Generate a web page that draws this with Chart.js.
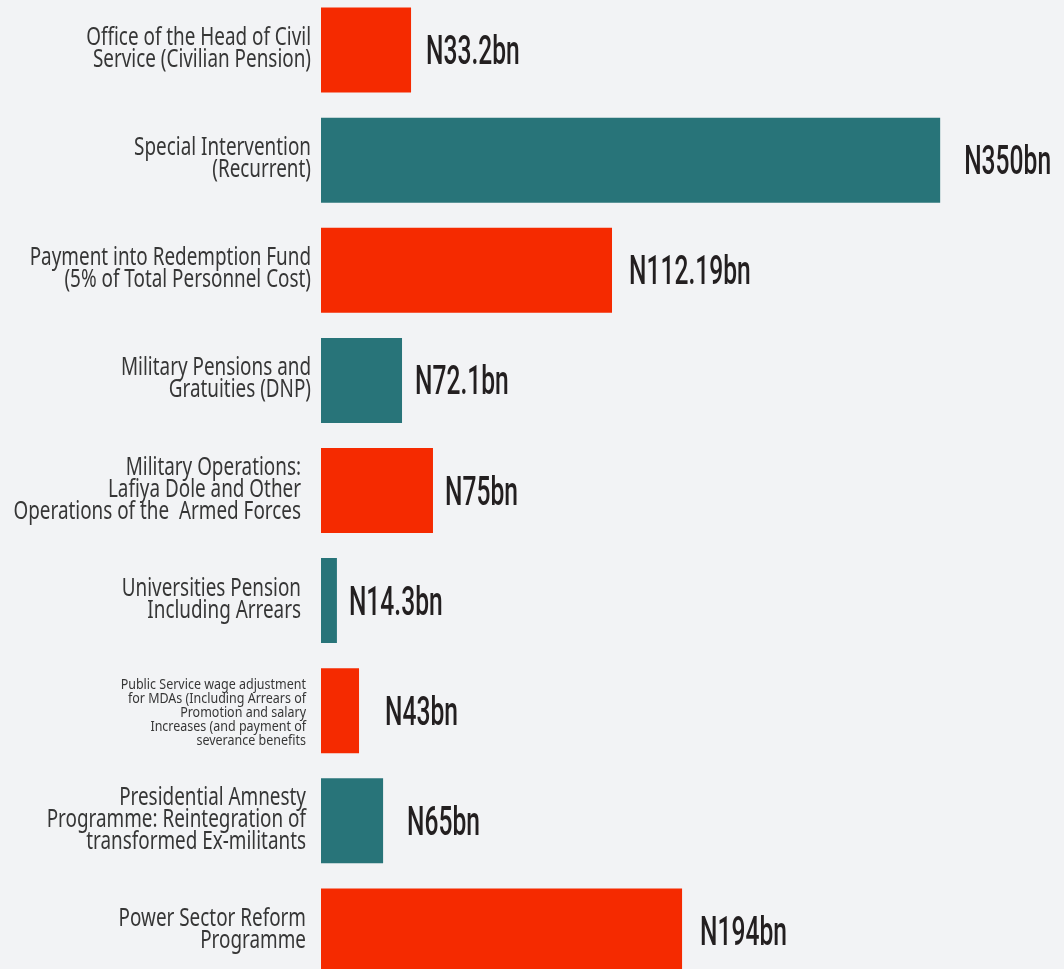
<!DOCTYPE html>
<html>
<head>
<meta charset="utf-8">
<script src="https://cdn.jsdelivr.net/npm/chart.js@4"></script>
<style>
	html, body { margin: 0; padding: 0; background: #F2F3F5; overflow: hidden; }
	#wrap { position: absolute; left: 0; top: -5px; width: 1064px; height: 991px; }
</style>
</head>
<body>
<div id="wrap"><canvas id="canvas"></canvas></div>
<script>
var categories = [
	['Office of the Head of Civil', 'Service (Civilian Pension)'],
	['Special Intervention', '(Recurrent)'],
	['Payment into Redemption Fund', '(5% of Total Personnel Cost)'],
	['Military Pensions and', 'Gratuities (DNP)'],
	['Military Operations:', 'Lafiya Dole and Other', 'Operations of the  Armed Forces'],
	['Universities Pension', 'Including Arrears'],
	['Public Service wage adjustment', 'for MDAs (Including Arrears of', 'Promotion and salary', 'Increases (and payment of', 'severance benefits'],
	['Presidential Amnesty', 'Programme: Reintegration of', 'transformed Ex-militants'],
	['Power Sector Reform', 'Programme']
];
// amounts printed next to the bars (N billion)
var amounts = [33.2, 350, 112.19, 72.1, 75, 14.3, 43, 65, 194];
// bar lengths as drawn in the graphic (same units, bars are not to scale)
var barLengths = [50.9, 350, 164.5, 45.8, 63.3, 9.0, 21.5, 35.1, 204.1];

var RED = '#F52A00';
var TEAL = '#287479';
var barColors = categories.map(function(c, i) { return i % 2 === 0 ? RED : TEAL; });

// right edge of each category label, gap between bar end and amount
var labelRight = [311, 311, 311, 311, 301, 301, 306, 306, 306];
var valueGap = [15, 24, 17, 13, 12, 12, 26, 24, 18];

var textPlugin = {
	id: 'texts',
	afterDatasetsDraw: function(chart) {
		var ctx = chart.ctx;
		var yScale = chart.scales.y;
		var meta = chart.getDatasetMeta(0);
		ctx.save();
		categories.forEach(function(lines, i) {
			var y = yScale.getPixelForValue(i);
			var small = lines.length > 3;
			var size = small ? 14.7 : 25;
			var lh = small ? 14 : 22;
			var sx = small ? 0.85 : 0.755;
			ctx.fillStyle = '#363636';
			ctx.font = '400 ' + size + 'px "Noto Sans"';
			ctx.textAlign = 'right';
			ctx.textBaseline = 'alphabetic';
			var first = y - (lines.length - 1) * lh / 2 + 6;
			lines.forEach(function(line, k) {
				ctx.save();
				ctx.translate(labelRight[i], first + k * lh);
				ctx.scale(sx, 1);
				ctx.fillText(line, 0, 0);
				ctx.restore();
			});

			// amount label
			var bar = meta.data[i];
			ctx.save();
			ctx.fillStyle = '#231F20';
			ctx.font = '500 41px Roboto';
			ctx.textAlign = 'left';
			ctx.translate(bar.x + valueGap[i], y + 14);
			ctx.scale(0.6, 1);
			ctx.fillText('N' + amounts[i] + 'bn', 0, 0);
			ctx.restore();
		});
		ctx.restore();
	}
};

window.onload = function() {
	var ctx = document.getElementById('canvas').getContext('2d');
	window.myBar = new Chart(ctx, {
		type: 'bar',
		data: {
			labels: categories,
			datasets: [{
				label: 'Amount',
				data: barLengths,
				backgroundColor: barColors,
				borderWidth: 0,
				barPercentage: 0.772,
				categoryPercentage: 1
			}]
		},
		options: {
			indexAxis: 'y',
			responsive: true,
			maintainAspectRatio: false,
			animation: false,
			layout: {
				padding: { left: 321, right: 0, top: 0, bottom: 0 }
			},
			plugins: {
				legend: { display: false },
				tooltip: { enabled: false },
				title: { display: false }
			},
			scales: {
				x: { display: false, min: 0, max: 420 },
				y: { display: false }
			}
		},
		plugins: [textPlugin]
	});
};
</script>
</body>
</html>
